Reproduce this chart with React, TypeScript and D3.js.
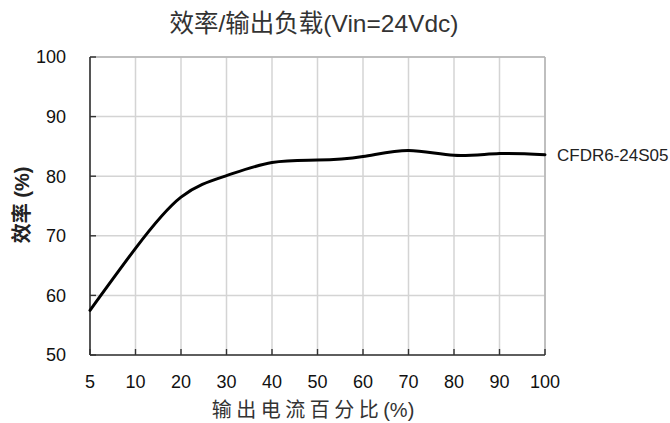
import React from "react";
import * as d3 from "d3";

const loadLabels = ["5", "10", "20", "30", "40", "50", "60", "70", "80", "90", "100"];
const efficiency = [57.5, 67.9, 76.5, 80.1, 82.3, 82.7, 83.3, 84.3, 83.5, 83.8, 83.6];
const yTicks = [50, 60, 70, 80, 90, 100];
const seriesName = "CFDR6-24S05";
const title = "效率/输出负载(Vin=24Vdc)";
const xTitleCJK = "输出电流百分比";
const xTitleUnit = "(%)";
const yTitle = "效率 (%)";

const W = 670, H = 423;
const L = 90, R = 545, T = 57, B = 355;
const FONT = "Liberation Sans, Arial, 'Noto Sans CJK SC', sans-serif";

export default function App() {
  const x = d3.scalePoint<string>().domain(loadLabels).range([L, R]);
  const y = d3.scaleLinear().domain([50, 100]).range([B, T]);
  const line = d3
    .line<number>()
    .x((_, i) => x(loadLabels[i]) as number)
    .y((d) => y(d))
    .curve(d3.curveNatural);
  const path = line(efficiency) || "";
  const last = efficiency[efficiency.length - 1];

  return (
    <svg width={W} height={H} style={{ position: "absolute", left: 0, top: 0, background: "#fff" }}>
      <rect x={0} y={0} width={W} height={H} fill="#fff" />
      {/* grid */}
      {loadLabels.map((l) => (
        <line key={"gx" + l} x1={x(l)} x2={x(l)} y1={T} y2={B} stroke="#d4d4d4" strokeWidth={1.5} />
      ))}
      {yTicks.map((t) => (
        <line key={"gy" + t} x1={L} x2={R} y1={y(t)} y2={y(t)} stroke="#d4d4d4" strokeWidth={1.5} />
      ))}
      {/* top/right border */}
      <line x1={L} x2={R} y1={T} y2={T} stroke="#b5b5b5" strokeWidth={1.5} />
      <line x1={R} x2={R} y1={T} y2={B} stroke="#b5b5b5" strokeWidth={1.5} />
      {/* axes */}
      <line x1={L} x2={L} y1={T} y2={B} stroke="#333" strokeWidth={1.6} />
      <line x1={L} x2={R} y1={B} y2={B} stroke="#333" strokeWidth={1.6} />
      {yTicks.map((t) => (
        <line key={"ty" + t} x1={L} x2={L + 6} y1={y(t)} y2={y(t)} stroke="#333" strokeWidth={1.4} />
      ))}
      {loadLabels.map((l) => (
        <line key={"tx" + l} x1={x(l)} x2={x(l)} y1={B} y2={B - 6} stroke="#333" strokeWidth={1.4} />
      ))}
      {/* tick labels */}
      {yTicks.map((t) => (
        <text key={"ly" + t} x={66} y={y(t)} dy="0.35em" textAnchor="end" fontFamily={FONT} fontSize={18} fill="#111">
          {t}
        </text>
      ))}
      {loadLabels.map((l) => (
        <text key={"lx" + l} x={x(l)} y={388} textAnchor="middle" fontFamily={FONT} fontSize={18} fill="#111">
          {l}
        </text>
      ))}
      {/* series */}
      <path d={path} fill="none" stroke="#000" strokeWidth={3} strokeLinejoin="round" strokeLinecap="round" />
      <text x={557} y={y(last)} dy="0.35em" fontFamily={FONT} fontSize={17} fill="#222">
        {seriesName}
      </text>
      {/* titles */}
      <text x={314} y={32} textAnchor="middle" fontFamily={FONT} fontSize={24.5} fill="#333">
        {title}
      </text>
      <text x={313} y={417} textAnchor="middle" fontFamily={FONT} fontSize={20} fill="#333">
        <tspan letterSpacing={4.5}>{xTitleCJK}</tspan>
        <tspan>{xTitleUnit}</tspan>
      </text>
      <text
        transform={`translate(29,205) rotate(-90)`}
        textAnchor="middle"
        fontFamily={FONT}
        fontSize={20}
        fontWeight="bold"
        fill="#222"
      >
        {yTitle}
      </text>
    </svg>
  );
}
